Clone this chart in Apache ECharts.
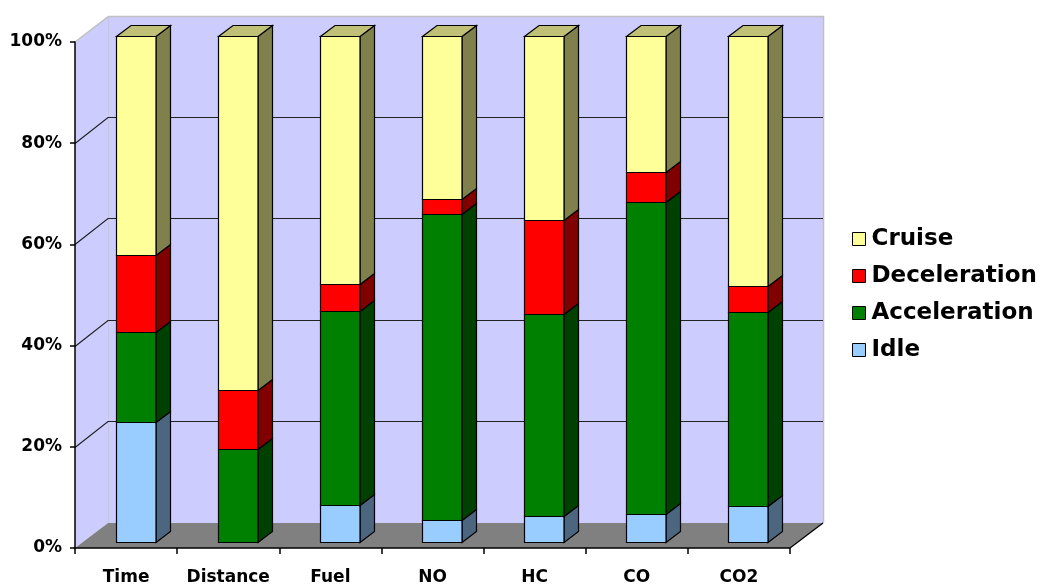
<!DOCTYPE html>
<html>
<head>
<meta charset="utf-8">
<title>Share of time, distance and emissions by driving mode</title>
<script src="https://cdn.jsdelivr.net/npm/echarts@6/dist/echarts.min.js"></script>
<style>
  html, body { margin: 0; padding: 0; background: #ffffff; }
  #chart { width: 1045px; height: 586px; }
</style>
</head>
<body>
<div id="chart"></div>
<script>
// Categories and percentage shares of each driving mode (stacked to 100%)
const categories = ['Time', 'Distance', 'Fuel', 'NO', 'HC', 'CO', 'CO2'];
const idle = [23.7, 0, 7.3, 4.3, 5.1, 5.4, 7.1];
const acceleration = [17.7, 18.2, 38.3, 60.5, 39.9, 61.6, 38.3];
const deceleration = [15.3, 11.8, 5.2, 2.8, 18.6, 6.1, 5.0];
const cruise = [43.3, 70.0, 49.2, 32.4, 36.4, 26.9, 49.6];
const yTicks = [0, 20, 40, 60, 80, 100];
const legendOrder = ['Cruise', 'Deceleration', 'Acceleration', 'Idle'];

// 3D look: wall depth and bar placement inside it (pixels)
const WALL_DX = 33, WALL_DY = -26;
const FLOOR_DY = -25;
const BAR_DX = 9.3, BAR_DY = -6.5;
const BAR_DEPTH_X = 14.5, BAR_DEPTH_Y = -11;
const BAR_WIDTH_RATIO = 0.387;

const FONT = 'DejaVu Sans';

// bottom-to-top stacking order
const layers = [
  { name: 'Idle', values: idle, front: '#99CCFF', side: '#4D6680', top: '#7399BF' },
  { name: 'Acceleration', values: acceleration, front: '#008000', side: '#004000', top: '#006000' },
  { name: 'Deceleration', values: deceleration, front: '#FF0000', side: '#800000', top: '#BF0000' },
  { name: 'Cruise', values: cruise, front: '#FFFF99', side: '#80804D', top: '#C0C077' }
];

// cumulative [category, base, top] rows for each layer
const running = categories.map(() => 0);
const stacked = layers.map(layer => layer.values.map((v, i) => {
  const lo = running[i];
  running[i] += v;
  return [i, lo, running[i]];
}));

function wallsRenderItem(params, api) {
  const band = api.size([1, 0])[0];
  const first = api.coord([0, 0]);
  const last = api.coord([categories.length - 1, 0]);
  const xL = first[0] - band / 2;
  const xR = last[0] + band / 2;
  const y0 = first[1];
  const y100 = api.coord([0, 100])[1];
  const children = [];
  // side wall
  children.push({
    type: 'polygon',
    shape: { points: [[xL, y100], [xL + WALL_DX, y100 + WALL_DY], [xL + WALL_DX, y0 + FLOOR_DY], [xL, y0]] },
    style: { fill: '#CCCCFF', stroke: null }
  });
  // back wall
  children.push({
    type: 'rect',
    shape: { x: xL + WALL_DX, y: y100 + WALL_DY, width: xR - xL, height: (y0 + FLOOR_DY) - (y100 + WALL_DY) },
    style: { fill: '#CCCCFF', stroke: null }
  });
  // floor
  children.push({
    type: 'polygon',
    shape: { points: [[xL, y0], [xR, y0], [xR + WALL_DX, y0 + FLOOR_DY], [xL + WALL_DX, y0 + FLOOR_DY]] },
    style: { fill: '#808080', stroke: null }
  });
  // light outline of the walls
  const xb = Math.round(xL + WALL_DX) + 0.5;
  const yTop = Math.round(y100 + WALL_DY) + 0.5;
  const xRb = Math.round(xR + WALL_DX) + 0.5;
  children.push({
    type: 'polyline',
    shape: { points: [[xL, y100], [xb, yTop], [xRb, yTop], [xRb, y0 + FLOOR_DY]] },
    style: { stroke: '#C0C0C0', lineWidth: 1.5, fill: null }
  });
  children.push({
    type: 'line',
    shape: { x1: xb, y1: yTop, x2: xb, y2: y0 + FLOOR_DY },
    style: { stroke: '#C8C8C8', lineWidth: 1 }
  });
  // grid lines on side and back walls
  yTicks.forEach(t => {
    if (t === 0 || t === 100) return;
    const y = Math.round(api.coord([0, t])[1]) + 0.5;
    const yb = y + WALL_DY;
    children.push({
      type: 'polyline',
      shape: { points: [[xL, y], [xL + WALL_DX, yb], [xR + WALL_DX, yb]] },
      style: { stroke: '#222222', lineWidth: 1.2, fill: null }
    });
  });
  // right edge of the floor
  children.push({
    type: 'line',
    shape: { x1: xR, y1: y0, x2: xR + WALL_DX, y2: y0 + FLOOR_DY },
    style: { stroke: '#000000', lineWidth: 1.3 }
  });
  return { type: 'group', children: children };
}

function makeBarRenderer(layer, drawTop) {
  return function (params, api) {
    const cat = api.value(0), lo = api.value(1), hi = api.value(2);
    if (hi - lo <= 0) return null;
    const pLo = api.coord([cat, lo]);
    const pHi = api.coord([cat, hi]);
    const bw = api.size([1, 0])[0] * BAR_WIDTH_RATIO;
    const x0 = Math.round(pLo[0] + BAR_DX - bw / 2) + 0.5;
    const x1 = Math.round(x0 + bw);
    const yb = Math.round(pLo[1] + BAR_DY) + 0.5;
    const yt = Math.round(pHi[1] + BAR_DY) + 0.5;
    const edge = { stroke: '#000000', lineWidth: 1.2, lineJoin: 'miter' };
    const children = [
      {
        type: 'polygon',
        shape: { points: [[x1, yb], [x1 + BAR_DEPTH_X, yb + BAR_DEPTH_Y], [x1 + BAR_DEPTH_X, yt + BAR_DEPTH_Y], [x1, yt]] },
        style: Object.assign({ fill: layer.side }, edge)
      },
      {
        type: 'rect',
        shape: { x: x0, y: yt, width: x1 - x0, height: yb - yt },
        style: Object.assign({ fill: layer.front }, edge)
      }
    ];
    if (drawTop) {
      children.push({
        type: 'polygon',
        shape: { points: [[x0, yt], [x1, yt], [x1 + BAR_DEPTH_X, yt + BAR_DEPTH_Y], [x0 + BAR_DEPTH_X, yt + BAR_DEPTH_Y]] },
        style: Object.assign({ fill: layer.top }, edge)
      });
    }
    return { type: 'group', children: children };
  };
}

const series = [{
  name: 'walls',
  type: 'custom',
  renderItem: wallsRenderItem,
  data: [[0, 0]],
  clip: false,
  silent: true,
  z: 1
}];

layers.forEach((layer, k) => {
  series.push({
    name: layer.name,
    type: 'custom',
    renderItem: makeBarRenderer(layer, k === layers.length - 1),
    data: stacked[k],
    encode: { x: 0, y: [1, 2] },
    itemStyle: { color: layer.front, borderColor: '#000000', borderWidth: 1 },
    clip: false,
    z: 2
  });
});

const chart = echarts.init(document.getElementById('chart'), null, { renderer: 'canvas' });
chart.setOption({
  backgroundColor: '#ffffff',
  animation: false,
  grid: { left: 75, right: 255, top: 42, bottom: 37, containLabel: false },
  legend: {
    data: legendOrder,
    orient: 'vertical',
    left: 847,
    top: 222,
    itemWidth: 13,
    itemHeight: 13,
    itemGap: 13,
    icon: 'rect',
    selectedMode: false,
    itemStyle: { borderColor: '#000000', borderWidth: 1 },
    textStyle: { fontFamily: FONT, fontWeight: 'bold', fontSize: 23, color: '#000000', lineHeight: 24, padding: [0, 0, 0, 1] }
  },
  xAxis: {
    type: 'category',
    data: categories,
    z: 3,
    axisLine: { show: true, lineStyle: { color: '#000000', width: 1.5 } },
    axisTick: { show: true, length: 6, lineStyle: { color: '#000000', width: 1.5 } },
    axisLabel: { interval: 0, margin: 21, fontFamily: FONT, fontWeight: 'bold', fontSize: 17, color: '#000000' },
    splitLine: { show: false }
  },
  yAxis: {
    type: 'value',
    min: 0,
    max: 100,
    interval: 20,
    z: 3,
    axisLine: { show: true, lineStyle: { color: '#000000', width: 1.5 } },
    axisTick: { show: true, length: 5, lineStyle: { color: '#000000', width: 1.5 } },
    axisLabel: { margin: 13, formatter: '{value}%', fontFamily: FONT, fontWeight: 'bold', fontSize: 17, color: '#000000' },
    splitLine: { show: false }
  },
  series: series
});
</script>
</body>
</html>
